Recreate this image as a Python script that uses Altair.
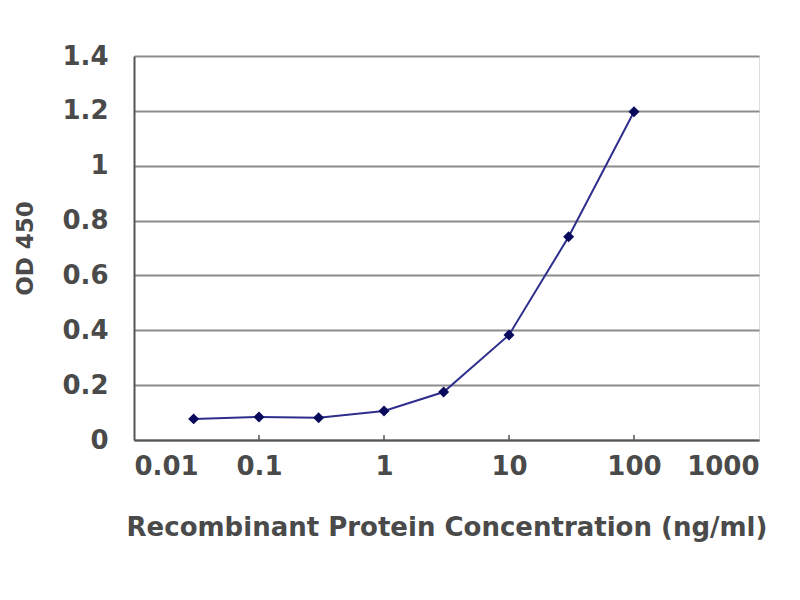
import altair as alt
import pandas as pd

conc = [0.03, 0.1, 0.3, 1, 3, 10, 30, 100]
od450 = [0.077, 0.084, 0.081, 0.106, 0.175, 0.383, 0.741, 1.197]
x_ticks = [0.01, 0.1, 1, 10, 100, 1000]
y_ticks = [0, 0.2, 0.4, 0.6, 0.8, 1.0, 1.2, 1.4]

df = pd.DataFrame({"conc": conc, "od": od450})
ticks_df = pd.DataFrame({"t": x_ticks[1:-1]})

FONT = "DejaVu Sans"
TXT = "#4a4a4a"
W, H = 625, 384

xscale = alt.Scale(type="log", domain=[0.01, 1000])
yscale = alt.Scale(domain=[0, 1.4])

xaxis = alt.Axis(values=x_ticks, format="~g", grid=False, ticks=False,
                 labelFontSize=26, labelFont=FONT, labelFontWeight="bold",
                 labelColor=TXT, labelPadding=13,
                 title="Recombinant Protein Concentration (ng/ml)",
                 titleFontSize=26, titleFont=FONT, titleFontWeight="bold",
                 titleColor=TXT, titlePadding=35,
                 domainColor="#555555", domainWidth=2)
yaxis = alt.Axis(values=y_ticks, format="~g", grid=True, gridColor="#8c8c8c",
                 gridWidth=2, ticks=False, labelFontSize=26, labelFont=FONT,
                 labelFontWeight="bold", labelColor=TXT, labelPadding=26,
                 title="OD 450", titleFontSize=23, titleFont=FONT,
                 titleFontWeight="bold", titleColor=TXT, titlePadding=24,
                 domainColor="#555555", domainWidth=2)

line = alt.Chart(df).mark_line(color="#2e2e8c", strokeWidth=2).encode(
    x=alt.X("conc:Q", scale=xscale, axis=xaxis),
    y=alt.Y("od:Q", scale=yscale, axis=yaxis),
)
pts = alt.Chart(df).mark_point(shape="diamond", filled=True, size=120,
                               color="#0a0a5c", opacity=1).encode(
    x=alt.X("conc:Q", scale=xscale),
    y=alt.Y("od:Q", scale=yscale),
)
tk = alt.Chart(ticks_df).mark_rule(color="#555555", strokeWidth=1.5).encode(
    x=alt.X("t:Q", scale=xscale),
    y=alt.value(H),
    y2=alt.value(H - 5),
)

chart = alt.layer(tk, line, pts).properties(
    width=W, height=H,
    autosize=alt.AutoSizeParams(type="none"),
    padding={"left": 126, "top": 48, "right": 30, "bottom": 140},
).configure_view(stroke="#808080", strokeWidth=2).configure(background="white")

chart.save("out.html", embed_options={"renderer": "svg", "actions": False})
